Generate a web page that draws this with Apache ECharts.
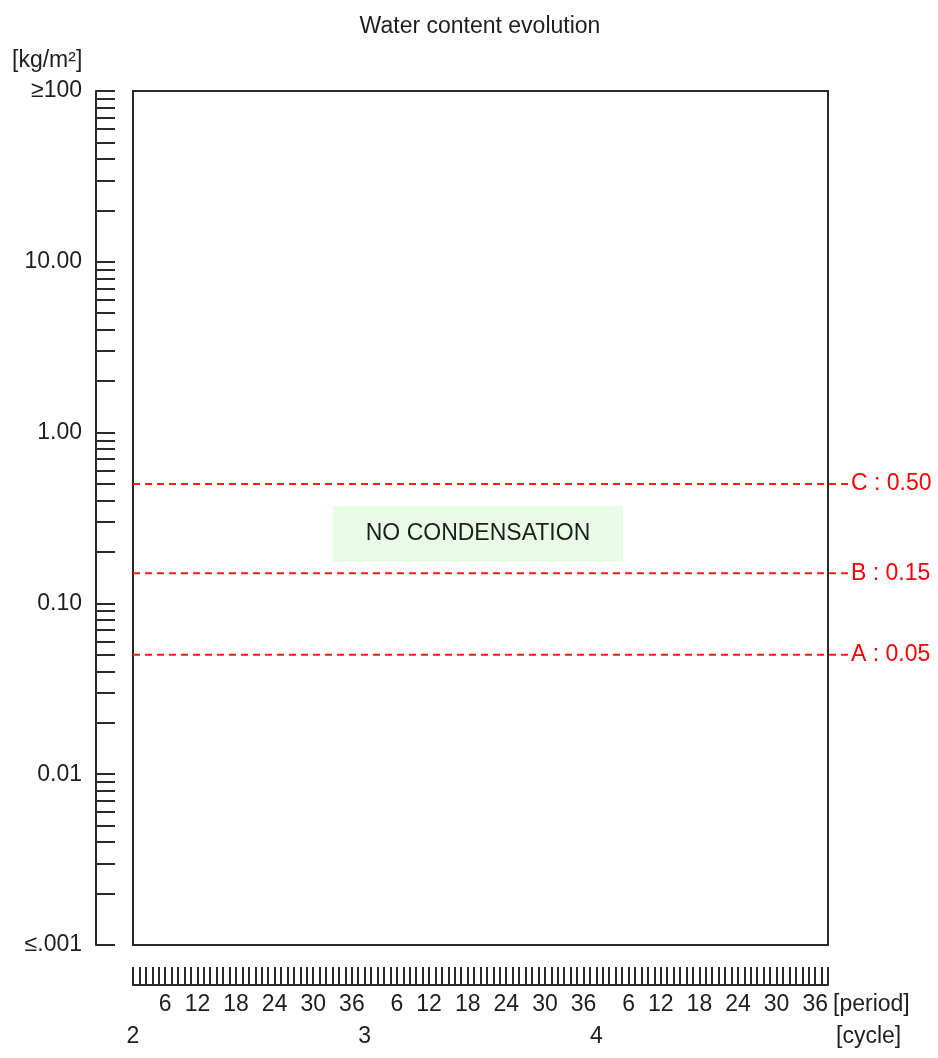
<!DOCTYPE html>
<html>
<head>
<meta charset="utf-8">
<script src="https://cdn.jsdelivr.net/npm/echarts@6/dist/echarts.min.js"></script>
<style>
html,body{margin:0;padding:0;background:#ffffff;}
#chart{width:938px;height:1058px;}
</style>
</head>
<body>
<div id="chart"></div>
<script>
// ---------- data ----------
const chartTitle = 'Water content evolution';
const yUnit = '[kg/m²]';
const yDecades = [0.001, 0.01, 0.1, 1, 10, 100];
const yTickLabels = ['≤.001', '0.01', '0.10', '1.00', '10.00', '≥100'];
const periodsPerCycle = 36;
const periodLabelStep = 6;
const cycleLabels = ['2', '3', '4'];
const periodUnit = '[period]';
const cycleUnit = '[cycle]';
const thresholdValues = [0.05, 0.15, 0.50];
const thresholdLabels = ['A : 0.05', 'B : 0.15', 'C : 0.50'];
const statusText = 'NO CONDENSATION';
const waterContent = []; // no condensation -> no curve

// ---------- derived ----------
const nPeriods = periodsPerCycle * cycleLabels.length;
const yMinorTicks = [];
for (let i = 0; i < yDecades.length - 1; i++) {
  for (let k = 1; k <= 9; k++) yMinorTicks.push(Number((yDecades[i] * k).toPrecision(6)));
}
yMinorTicks.push(yDecades[yDecades.length - 1]);

const FONT = 'Liberation Sans, Arial, sans-serif';
const FS = 23;
const TXT = '#1e1e1e';
const AX = '#2a2a2a';

const chart = echarts.init(document.getElementById('chart'), null, {renderer: 'canvas'});

const option = {
  backgroundColor: '#ffffff',
  animation: false,
  title: {
    text: chartTitle,
    left: 475,
    top: 10,
    textAlign: 'center',
    textStyle: {fontSize: FS, fontWeight: 'normal', color: TXT, fontFamily: FONT}
  },
  grid: {
    left: 133, top: 91, width: 695, height: 854,
    show: true, borderColor: AX, borderWidth: 2, backgroundColor: 'transparent'
  },
  xAxis: [
    {
      type: 'value', min: 0, max: nPeriods, interval: 1,
      position: 'bottom', offset: 40,
      axisLine: {show: true, onZero: false, lineStyle: {color: AX, width: 2}},
      axisTick: {show: true, inside: true, length: 18, lineStyle: {color: AX, width: 2}},
      splitLine: {show: false},
      axisLabel: {
        show: true, margin: 8, align: 'right',
        fontSize: FS, color: TXT, fontFamily: FONT,
        formatter: function (v) {
          if (v <= 0 || v % periodLabelStep !== 0) return '';
          return String(((v - 1) % periodsPerCycle) + 1);
        }
      }
    },
    {
      type: 'value', min: 0, max: nPeriods, interval: periodsPerCycle,
      position: 'bottom', offset: 40,
      axisLine: {show: false, onZero: false}, axisTick: {show: false}, splitLine: {show: false},
      axisLabel: {
        show: true, margin: 40, align: 'center',
        fontSize: FS, color: TXT, fontFamily: FONT,
        formatter: function (v) {
          const idx = Math.round(v / periodsPerCycle);
          return cycleLabels[idx] !== undefined ? cycleLabels[idx] : '';
        }
      }
    }
  ],
  yAxis: {
    type: 'log', logBase: 10, min: yDecades[0], max: yDecades[yDecades.length - 1],
    position: 'left', offset: 37,
    axisLine: {show: true, onZero: false, lineStyle: {color: AX, width: 2}},
    axisTick: {show: true, inside: true, length: 19, customValues: yMinorTicks, lineStyle: {color: AX, width: 2}},
    minorTick: {show: false},
    splitLine: {show: false},
    axisLabel: {
      show: true, margin: 14, customValues: yDecades,
      fontSize: FS, color: TXT, fontFamily: FONT,
      formatter: function (v) {
        const idx = Math.round(Math.log10(v)) - Math.round(Math.log10(yDecades[0]));
        return yTickLabels[idx] !== undefined ? yTickLabels[idx] : '';
      }
    }
  },
  series: [
    {
      type: 'line', name: 'water content', xAxisIndex: 0, yAxisIndex: 0,
      data: waterContent, showSymbol: false
    },
    {
      type: 'custom', name: 'thresholds', xAxisIndex: 0, yAxisIndex: 0,
      clip: false, silent: true,
      data: thresholdValues.map(function (v, i) { return [0, v, thresholdLabels[i]]; }),
      encode: {x: 0, y: 1},
      renderItem: function (params, api) {
        const v = api.value(1);
        const p0 = api.coord([0, v]);
        const p1 = api.coord([nPeriods, v]);
        const overhang = 20;
        const label = thresholdLabels[params.dataIndex];
        return {
          type: 'group',
          children: [
            {
              type: 'line',
              shape: {x1: p0[0], y1: p0[1], x2: p1[0] + overhang, y2: p1[1]},
              style: {stroke: '#ff1a1a', lineWidth: 2, lineDash: [7, 5]}
            },
            {
              type: 'text',
              style: {
                text: label, x: p1[0] + overhang + 3, y: p1[1],
                fill: '#ff0000', fontSize: FS, fontFamily: FONT,
                align: 'left', verticalAlign: 'middle'
              }
            }
          ]
        };
      }
    }
  ],
  graphic: [
    {
      type: 'text', left: 12, top: 49,
      style: {text: yUnit, fill: TXT, fontSize: FS, fontFamily: FONT}
    },
    {
      type: 'text', left: 833, top: 993,
      style: {text: periodUnit, fill: TXT, fontSize: FS, fontFamily: FONT}
    },
    {
      type: 'text', left: 836, top: 1025,
      style: {text: cycleUnit, fill: TXT, fontSize: FS, fontFamily: FONT}
    },
    {
      type: 'group', left: 333, top: 506,
      children: [
        {type: 'rect', shape: {x: 0, y: 0, width: 290, height: 56}, style: {fill: '#e8fce8'}},
        {
          type: 'text', x: 145, y: 28,
          style: {text: statusText, fill: TXT, fontSize: FS, fontFamily: FONT, align: 'center', verticalAlign: 'middle'}
        }
      ]
    }
  ]
};

chart.setOption(option);
</script>
</body>
</html>
